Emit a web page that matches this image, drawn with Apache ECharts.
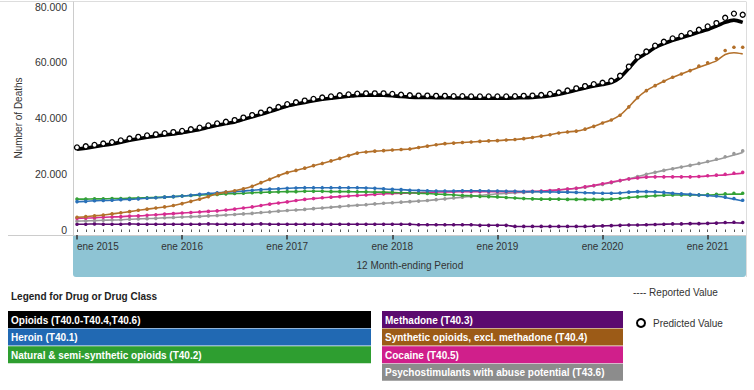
<!DOCTYPE html>
<html>
<head>
<meta charset="utf-8">
<script src="https://cdn.jsdelivr.net/npm/echarts@6/dist/echarts.min.js"></script>
<style>
html,body{margin:0;padding:0;background:#fff;}
#chart{width:754px;height:390px;}
</style>
</head>
<body>
<div id="chart"></div>
<script>
// ---- Data (number of deaths, in thousands; 12 month-ending periods, Jan 2015 .. May 2021) ----
const monthNames = ['ene','feb','mar','abr','may','jun','jul','ago','sep','oct','nov','dic'];
const years = [2015, 2016, 2017, 2018, 2019, 2020, 2021];
const lastMonthIndex2021 = 4; // May 2021
const categories = [];
years.forEach(function (y) {
  monthNames.forEach(function (m, i) {
    if (y < 2021 || i <= lastMonthIndex2021) categories.push(m + ' ' + y);
  });
});

const seriesNames = [
  'Opioids (T40.0-T40.4,T40.6)',
  'Heroin (T40.1)',
  'Natural & semi-synthetic opioids (T40.2)',
  'Methadone (T40.3)',
  'Synthetic opioids, excl. methadone (T40.4)',
  'Cocaine (T40.5)',
  'Psychostimulants with abuse potential (T43.6)'
];
const seriesColors = ['#000000', '#2169b3', '#2e9e30', '#5b0a6f', '#9c5b17', '#d01f8b', '#8c8c8c'];
const lineColors   = ['#000000', '#2a70b8', '#34a236', '#5b0a6f', '#b3702a', '#d62c91', '#9a9a9a'];

const opioids = [28.8,29.2,29.7,30.2,30.7,31.3,32.0,32.6,33.1,33.5,33.9,34.3,
  34.7,35.3,35.9,36.7,37.4,38.0,38.6,39.5,40.4,41.3,42.3,43.3,
  44.3,45.0,45.6,46.2,46.7,47.1,47.5,47.8,48.1,48.2,48.2,48.2,
  48.0,47.7,47.5,47.4,47.4,47.3,47.3,47.2,47.2,47.1,47.1,47.1,
  47.1,47.1,47.2,47.3,47.4,47.6,48.0,48.5,49.2,50.0,50.8,51.5,
  52.0,52.7,54.5,57.8,61.3,63.2,65.3,66.7,67.9,68.8,69.8,70.8,
  71.7,73.0,74.3,75.1,74.3];
const heroin = [10.0,10.1,10.3,10.4,10.5,10.7,10.8,11.0,11.2,11.4,11.6,11.8,
  12.0,12.3,12.6,12.9,13.2,13.4,13.6,13.8,14.1,14.3,14.5,14.6,
  14.8,14.9,15.0,15.0,15.0,15.0,15.0,15.0,15.0,14.9,14.8,14.6,
  14.4,14.3,14.1,14.0,13.9,13.8,13.8,13.8,13.9,13.9,13.9,13.8,
  13.8,13.7,13.7,13.6,13.6,13.5,13.5,13.4,13.4,13.3,13.2,13.1,
  13.0,13.0,13.1,13.4,13.6,13.6,13.5,13.3,13.0,12.8,12.6,12.4,
  12.2,11.9,11.5,10.9,10.2];
const natural = [10.9,10.9,11.0,11.0,11.1,11.1,11.2,11.3,11.4,11.5,11.6,11.8,
  12.0,12.2,12.4,12.5,12.6,12.8,12.9,13.0,13.2,13.3,13.4,13.5,
  13.6,13.6,13.7,13.7,13.7,13.6,13.6,13.6,13.5,13.5,13.4,13.4,
  13.3,13.2,13.2,13.0,12.9,12.7,12.6,12.4,12.2,12.1,11.9,11.8,
  11.7,11.5,11.3,11.1,11.0,10.9,10.9,10.9,10.8,10.8,10.8,10.8,
  10.8,10.9,11.1,11.5,11.7,11.9,12.1,12.3,12.4,12.4,12.4,12.4,
  12.4,12.5,12.6,12.7,12.7];
const methadone = [1.9,1.9,2.0,1.9,1.9,1.9,2.0,1.9,1.9,1.9,1.9,1.9,
  1.9,1.9,1.9,2.0,1.9,1.9,1.9,1.9,1.9,2.0,1.9,1.9,
  1.9,1.9,1.9,1.9,1.9,1.9,1.9,1.9,1.9,1.9,1.9,1.9,
  1.9,1.9,1.9,1.7,1.7,1.7,1.7,1.7,1.7,1.7,1.5,1.5,
  1.5,1.5,1.1,1.1,1.1,1.1,1.1,1.1,1.1,1.1,1.1,1.2,
  1.3,1.4,1.5,1.6,1.6,1.7,1.8,1.9,2.0,2.0,2.1,2.1,
  2.2,2.3,2.4,2.4,2.3];
const synthetic = [4.4,4.6,4.9,5.2,5.6,6.0,6.4,6.9,7.3,7.7,8.1,8.6,
  9.3,10.1,10.9,11.8,12.8,13.4,13.9,14.6,15.5,16.8,18.0,19.3,
  20.4,21.2,22.0,22.9,23.7,24.6,25.5,26.5,27.4,27.8,28.1,28.3,
  28.5,28.7,28.9,29.4,29.9,30.4,30.8,31.0,31.2,31.4,31.6,31.8,
  31.9,32.1,32.3,32.6,33.0,33.5,34.0,34.6,35.0,35.3,36.0,37.0,
  38.2,39.3,41.0,44.0,47.3,49.8,51.6,53.2,54.6,55.8,57.0,58.2,
  59.3,60.5,62.8,63.4,63.0];
const cocaine = [4.0,4.1,4.2,4.4,4.5,4.6,4.8,4.9,5.1,5.3,5.5,5.7,
  5.9,6.1,6.3,6.5,6.7,7.0,7.3,7.7,8.1,8.6,9.1,9.5,
  9.9,10.4,10.8,11.1,11.4,11.6,11.8,12.0,12.2,12.4,12.6,12.8,
  12.9,13.0,13.1,13.2,13.3,13.4,13.5,13.5,13.6,13.6,13.6,13.6,
  13.6,13.6,13.6,13.6,13.7,13.8,14.0,14.2,14.5,14.8,15.3,15.8,
  16.4,17.0,17.6,18.1,18.5,18.8,18.9,18.9,18.9,18.9,18.9,19.0,
  19.2,19.4,19.6,19.9,20.2];
const psychostimulants = [3.0,3.1,3.2,3.3,3.4,3.5,3.7,3.8,3.9,4.0,4.2,4.3,
  4.5,4.6,4.7,4.9,5.0,5.2,5.4,5.6,5.8,6.1,6.3,6.6,
  6.8,7.0,7.2,7.5,7.7,8.0,8.2,8.5,8.7,8.9,9.2,9.4,
  9.6,9.8,10.0,10.2,10.4,10.7,11.0,11.3,11.6,11.9,12.2,12.5,
  12.8,13.0,13.2,13.3,13.5,13.7,13.9,14.2,14.5,14.8,15.2,15.7,
  16.2,16.8,17.5,18.2,19.0,19.8,20.5,21.2,21.8,22.4,23.0,23.6,
  24.3,25.0,25.8,26.7,27.6];

// Predicted values differ from reported only in the most recent months (Dec 2020 .. May 2021)
const predictedFrom = 71;
const opioidsPredTail          = [71.0,72.2,73.4,75.3,76.8,76.4];
const heroinPredTail           = [12.4,12.2,12.0,11.6,11.1,10.5];
const naturalPredTail          = [12.4,12.5,12.6,12.8,13.0,13.0];
const methadonePredTail        = [2.1,2.2,2.3,2.5,2.6,2.5];
const syntheticPredTail        = [58.6,59.8,61.3,64.2,65.4,65.4];
const cocainePredTail          = [19.0,19.3,19.5,19.8,20.2,20.5];
const psychostimulantsPredTail = [23.7,24.4,25.2,26.1,27.2,28.2];

const yTicks = [0, 20, 40, 60, 80];

// ---- Build ----
const reported = [opioids, heroin, natural, methadone, synthetic, cocaine, psychostimulants];
const predTails = [opioidsPredTail, heroinPredTail, naturalPredTail, methadonePredTail,
  syntheticPredTail, cocainePredTail, psychostimulantsPredTail];

const FONT = "'Liberation Sans', Arial, sans-serif";
const drawOrder = [3, 6, 5, 2, 1, 4, 0];
const series = [];
drawOrder.forEach(function (i) {
  const isMain = i === 0;
  series.push({
    name: seriesNames[i] + ' reported',
    type: 'line',
    data: reported[i],
    showSymbol: false,
    smooth: 0.2,
    lineStyle: { color: lineColors[i], width: isMain ? 3.6 : 1.6 },
    z: isMain ? 5 : 3
  });
  series.push({
    name: seriesNames[i] + ' predicted',
    type: 'line',
    data: reported[i].slice(0, predictedFrom).concat(predTails[i]),
    showSymbol: true,
    showAllSymbol: true,
    symbol: 'circle',
    symbolSize: isMain ? 5 : 3.6,
    symbolOffset: isMain ? [0, -1.8] : [0, 0],
    lineStyle: { width: 0, opacity: 0 },
    itemStyle: isMain ? { color: '#ffffff', borderColor: '#000', borderWidth: 1.3 }
                      : { color: lineColors[i], borderWidth: 0 },
    z: isMain ? 6 : 4
  });
});

// frame, band and legend graphics
const graphic = [];
graphic.push({ type: 'rect', z: -10, shape: { x: 73, y: 235, width: 673, height: 42, r: [0, 0, 3, 3] }, style: { fill: '#8ec4d4' } });
graphic.push({ type: 'line', shape: { x1: 0, y1: 1.5, x2: 746, y2: 1.5 }, style: { stroke: '#dddddd', lineWidth: 1 } });
graphic.push({ type: 'line', shape: { x1: 746.5, y1: 1.5, x2: 746.5, y2: 277 }, style: { stroke: '#dddddd', lineWidth: 1 } });
graphic.push({ type: 'line', shape: { x1: 73.5, y1: 1.5, x2: 73.5, y2: 235 }, style: { stroke: '#cccccc', lineWidth: 1 } });
graphic.push({ type: 'line', shape: { x1: 8, y1: 235.5, x2: 746, y2: 235.5 }, style: { stroke: '#cccccc', lineWidth: 1 } });
graphic.push({ type: 'text', x: 11, y: 296, style: { text: 'Legend for Drug or Drug Class', font: 'bold 10px ' + FONT, fill: '#222', verticalAlign: 'middle' } });
const boxH = 17, boxStep = 17.6;
const cols = [{ x: 8, w: 363, items: [0, 1, 2] }, { x: 382, w: 241, items: [3, 4, 5, 6] }];
cols.forEach(function (c) {
  c.items.forEach(function (idx, k) {
    const y = 311 + k * boxStep;
    graphic.push({ type: 'rect', shape: { x: c.x, y: y, width: c.w, height: boxH }, style: { fill: seriesColors[idx] } });
    graphic.push({ type: 'text', x: c.x + 3, y: y + boxH / 2 + 0.5, style: { text: seriesNames[idx], font: 'bold 10px ' + FONT, fill: '#ffffff', verticalAlign: 'middle' } });
  });
});
graphic.push({ type: 'text', x: 633, y: 292, style: { text: '---- Reported Value', font: '10px ' + FONT, fill: '#333', verticalAlign: 'middle' } });
graphic.push({ type: 'circle', shape: { cx: 641, cy: 323, r: 4 }, style: { fill: '#fff', stroke: '#000', lineWidth: 2 } });
graphic.push({ type: 'text', x: 653, y: 323, style: { text: 'Predicted Value', font: '10px ' + FONT, fill: '#333', verticalAlign: 'middle' } });

const chart = echarts.init(document.getElementById('chart'), null, { renderer: 'svg' });
chart.setOption({
  animation: false,
  backgroundColor: '#ffffff',
  textStyle: { fontFamily: FONT },
  grid: { left: 77, right: 11.3, top: 6.5, height: 223, containLabel: false },
  xAxis: [{
    type: 'category',
    data: categories,
    boundaryGap: false,
    offset: 5.5,
    axisLine: { show: false },
    axisTick: { show: true, interval: 0, length: 2.5, lineStyle: { color: '#555', width: 1 } },
    axisLabel: {
      interval: function (i) { return i % 12 === 0; },
      margin: 6, fontSize: 10, color: '#333', fontFamily: FONT,
      alignMinLabel: 'left'
    },
    splitLine: { show: false },
    name: '12 Month-ending Period',
    nameLocation: 'middle',
    nameGap: 25,
    nameTextStyle: { fontSize: 10, color: '#333', fontFamily: FONT }
  }, {
    type: 'category',
    data: categories,
    boundaryGap: false,
    position: 'bottom',
    offset: 5.5,
    axisLine: { show: false },
    axisTick: { show: true, interval: function (i) { return i % 12 === 0; }, length: 4.5, lineStyle: { color: '#333', width: 1.5 } },
    axisLabel: { show: false },
    splitLine: { show: false }
  }],
  yAxis: {
    type: 'value',
    min: yTicks[0],
    max: yTicks[yTicks.length - 1],
    interval: yTicks[1] - yTicks[0],
    axisLine: { show: false },
    axisTick: { show: false },
    splitLine: { show: false },
    axisLabel: {
      margin: 10, fontSize: 10.5, color: '#333', fontFamily: FONT,
      formatter: function (v) { return v === 0 ? '0' : v + '.000'; }
    },
    name: 'Number of Deaths',
    nameLocation: 'middle',
    nameGap: 54,
    nameTextStyle: { fontSize: 10, color: '#333', fontFamily: FONT }
  },
  graphic: { elements: graphic },
  series: series
});
</script>
</body>
</html>
